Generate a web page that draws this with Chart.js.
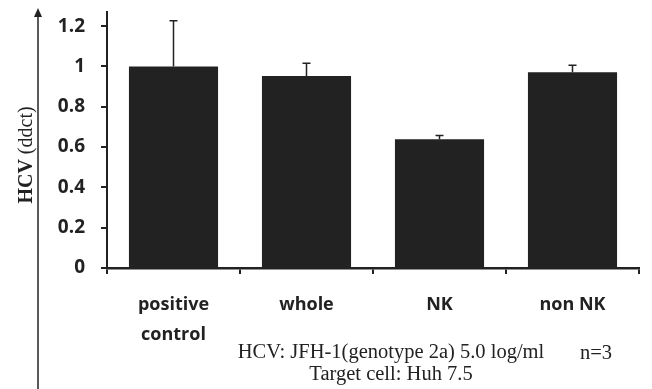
<!DOCTYPE html>
<html lang="en">
<head>
  <meta charset="UTF-8" />
  <title>HCV (ddct)</title>
  <script src="https://cdn.jsdelivr.net/npm/chart.js"></script>
  <style>
    html, body { margin: 0; padding: 0; background: #fff; }
    #wrap { position: relative; width: 652px; height: 389px; }
    .cap { position: absolute; font-family: "Liberation Serif", "DejaVu Serif", serif; font-size: 20.5px; line-height: 22px; color: #222; white-space: nowrap; }
  </style>
</head>
<body>
  <div id="wrap">
    <canvas id="hcvChart" width="652" height="389"></canvas>
    <div class="cap" style="left:191px; width:400px; top:340px; text-align:center;">HCV: JFH-1(genotype 2a) 5.0 log/ml<br>Target cell: Huh 7.5</div>
    <div class="cap" style="left:580px; top:341px;">n=3</div>
  </div>

  <script>
    const categories = [['positive', 'control'], 'whole', 'NK', 'non NK'];
    const hcvValues = [1.0, 0.953, 0.639, 0.971];
    const errorUpper = [0.227, 0.063, 0.018, 0.035];
    const yTicks = [0, 0.2, 0.4, 0.6, 0.8, 1, 1.2];

    // error bars (upper only) + y title with arrow
    const extras = {
      id: 'extras',
      afterDatasetsDraw(chart) {
        const ctx = chart.ctx;
        const y = chart.scales.y;
        const meta = chart.getDatasetMeta(0);
        ctx.save();
        ctx.strokeStyle = '#222';
        ctx.lineWidth = 1.5;
        meta.data.forEach((bar, i) => {
          const top = y.getPixelForValue(hcvValues[i] + errorUpper[i]);
          ctx.beginPath();
          ctx.moveTo(bar.x, bar.y);
          ctx.lineTo(bar.x, top);
          ctx.moveTo(bar.x - 4, top);
          ctx.lineTo(bar.x + 4, top);
          ctx.stroke();
        });
        ctx.restore();
      },
      afterDraw(chart) {
        const ctx = chart.ctx;
        ctx.save();
        // arrow
        ctx.strokeStyle = '#222';
        ctx.fillStyle = '#222';
        ctx.lineWidth = 1.5;
        ctx.beginPath();
        ctx.moveTo(38, 389);
        ctx.lineTo(38, 12);
        ctx.stroke();
        ctx.beginPath();
        ctx.moveTo(38, 8);
        ctx.lineTo(34, 17);
        ctx.lineTo(42, 17);
        ctx.closePath();
        ctx.fill();
        // title
        ctx.translate(27, 155);
        ctx.rotate(-Math.PI / 2);
        ctx.textBaseline = 'middle';
        ctx.textAlign = 'left';
        const a = 'HCV ';
        const b = '(ddct)';
        ctx.font = 'bold 20px "Liberation Serif", serif';
        const wa = ctx.measureText(a).width;
        ctx.font = '20px "Liberation Serif", serif';
        const wb = ctx.measureText(b).width;
        const x0 = -(wa + wb) / 2;
        ctx.font = 'bold 20px "Liberation Serif", serif';
        ctx.fillText(a, x0, 0);
        ctx.font = '20px "Liberation Serif", serif';
        ctx.fillText(b, x0 + wa, 0);
        ctx.restore();
      }
    };

    const ctx = document.getElementById('hcvChart').getContext('2d');
    new Chart(ctx, {
      type: 'bar',
      data: {
        labels: categories,
        datasets: [{
          data: hcvValues,
          backgroundColor: '#222222',
          borderWidth: 0,
          categoryPercentage: 1,
          barPercentage: 0.67
        }]
      },
      options: {
        responsive: false,
        animation: false,
        layout: { padding: { top: 12, right: 13, left: 0, bottom: 0 } },
        plugins: { legend: { display: false }, tooltip: { enabled: false } },
        scales: {
          x: {
            afterFit(scale) {
              scale.height = 121;
              scale.paddingLeft = 0;
              scale.paddingRight = 0;
            },
            border: { color: '#222', width: 2.5 },
            grid: { offset: true, drawOnChartArea: false, drawTicks: true, tickLength: 6, color: '#222', lineWidth: 2 },
            ticks: {
              color: '#222',
              padding: 16,
              font: { family: '"Open Sans", sans-serif', size: 18, weight: 'bold', lineHeight: 1.65 }
            }
          },
          y: {
            min: 0,
            max: 1.27,
            afterFit(scale) {
              scale.width = 107;
              scale.paddingTop = 0;
              scale.paddingBottom = 0;
            },
            afterBuildTicks(scale) { scale.ticks = yTicks.map(v => ({ value: v })); },
            border: { color: '#222', width: 2 },
            grid: { drawOnChartArea: false, drawTicks: true, tickLength: 6, color: '#222', lineWidth: 2 },
            ticks: {
              color: '#222',
              padding: 16,
              callback: v => String(v),
              font: { family: '"Open Sans", sans-serif', size: 19, weight: 'bold' }
            }
          }
        }
      },
      plugins: [extras]
    });
  </script>
</body>
</html>
